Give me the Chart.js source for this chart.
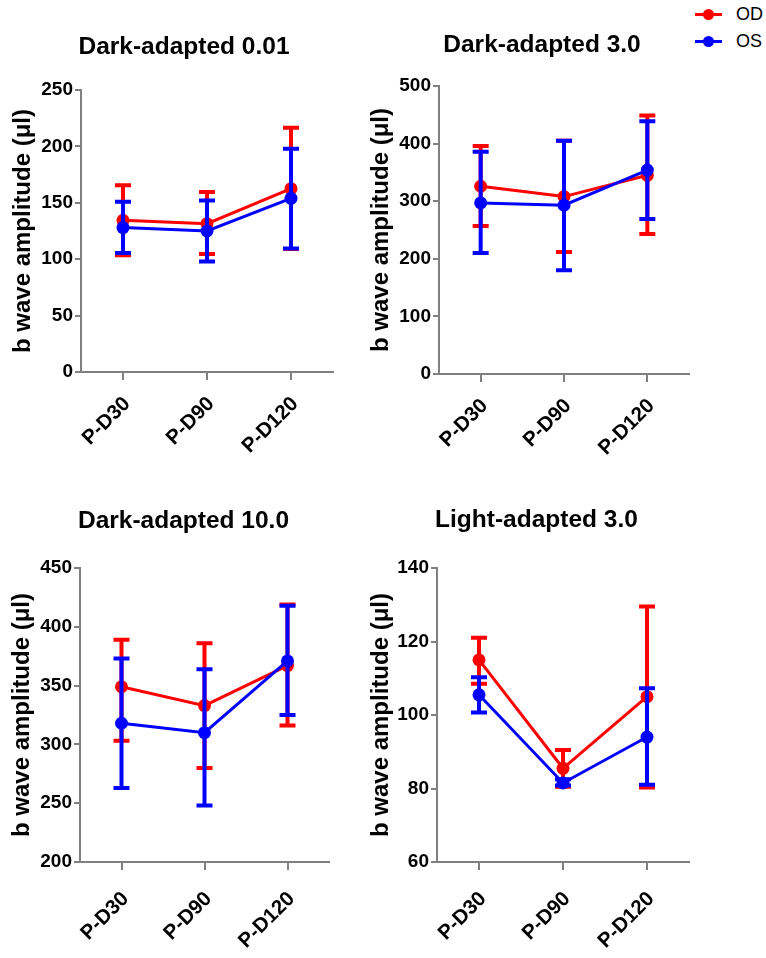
<!DOCTYPE html>
<html>
<head>
<meta charset="utf-8">
<title>b wave amplitude</title>
<script src="https://cdn.jsdelivr.net/npm/chart.js@4.4.1/dist/chart.umd.min.js"></script>
<style>
  html, body { margin: 0; padding: 0; background: #fff; }
  body { width: 766px; height: 958px; position: relative; overflow: hidden; font-family: 'Liberation Sans', Arial, sans-serif; }
  .panel { position: absolute; }
  #legend { position: absolute; left: 695px; top: 1px; font-size: 18px; color: #000; }
  #legend .item { display: flex; align-items: center; height: 27px; }
  #legend .mk { position: relative; width: 27px; height: 3px; margin-right: 14px; }
  #legend .mk::after { content: ''; position: absolute; left: 8px; top: -4px; width: 11px; height: 11px; border-radius: 50%; background: inherit; }
</style>
</head>
<body>
<div id="legend">
  <div class="item"><span class="mk" style="background:#ff0000"></span>OD</div>
  <div class="item"><span class="mk" style="background:#0000ff"></span>OS</div>
</div>
<div class="panel" style="left:0;top:25px;width:370px;height:465px"><canvas id="c1"></canvas></div>
<div class="panel" style="left:360px;top:25px;width:364px;height:465px"><canvas id="c2"></canvas></div>
<div class="panel" style="left:0;top:495px;width:366px;height:463px"><canvas id="c3"></canvas></div>
<div class="panel" style="left:360px;top:495px;width:354px;height:463px"><canvas id="c4"></canvas></div>
<script>
// Categories and series names
const categories = ['P-D30', 'P-D90', 'P-D120'];
const seriesNames = ['OD', 'OS'];
const panelTitles = ['Dark-adapted 0.01', 'Dark-adapted 3.0', 'Dark-adapted 10.0', 'Light-adapted 3.0'];
const yTitle = 'b wave amplitude (\u03bcl)';

// Y axis ranges: [min, max, step]
const yRange1 = [0, 250, 50];
const yRange2 = [0, 500, 100];
const yRange3 = [200, 450, 50];
const yRange4 = [60, 140, 20];

// Dark-adapted 0.01
const da001OD = [134.5, 131.5, 162.5];
const da001ODLow = [103.5, 104.5, 109];
const da001ODHigh = [165.5, 159.5, 216.5];
const da001OS = [128, 125, 154];
const da001OSLow = [105.5, 98, 109.5];
const da001OSHigh = [151, 152, 198];

// Dark-adapted 3.0
const da30OD = [326, 308, 345];
const da30ODLow = [257, 212, 243];
const da30ODHigh = [396, 405, 449];
const da30OS = [297, 293, 354];
const da30OSLow = [210, 180, 269];
const da30OSHigh = [386, 405, 439];

// Dark-adapted 10.0
const da100OD = [349, 333, 367];
const da100ODLow = [303, 280, 316];
const da100ODHigh = [389, 386, 419];
const da100OS = [318, 310, 371];
const da100OSLow = [263, 248, 325];
const da100OSHigh = [373, 364, 418];

// Light-adapted 3.0
const la30OD = [115, 85.5, 105];
const la30ODLow = [108.5, 80.5, 80.3];
const la30ODHigh = [121, 90.5, 129.5];
const la30OS = [105.5, 81.5, 94];
const la30OSLow = [100.7, 80.8, 81];
const la30OSHigh = [110.3, 82.5, 107.3];

const RED = '#ff0000';
const BLUE = '#0000ff';
const AXIS = '#808080';

Chart.defaults.font.family = "'Liberation Sans', Arial, sans-serif";
Chart.defaults.color = '#000';

// Draw error bars (whiskers with caps) just under each dataset's own line
const errorBarPlugin = {
  id: 'errorBars',
  beforeDatasetDraw(chart, args) {
    const ds = chart.data.datasets[args.index];
    if (!ds.errLow) return;
    const yScale = chart.scales.y;
    const ctx = chart.ctx;
    ctx.save();
    ctx.strokeStyle = ds.borderColor;
    ctx.lineWidth = 4;
    ctx.lineCap = 'butt';
    args.meta.data.forEach((pt, i) => {
      const x = pt.x;
      const yl = yScale.getPixelForValue(ds.errLow[i]);
      const yh = yScale.getPixelForValue(ds.errHigh[i]);
      ctx.beginPath();
      ctx.moveTo(x, yl);
      ctx.lineTo(x, yh);
      ctx.moveTo(x - 8, yl);
      ctx.lineTo(x + 8, yl);
      ctx.moveTo(x - 8, yh);
      ctx.lineTo(x + 8, yh);
      ctx.stroke();
    });
    ctx.restore();
  }
};

function makeDataset(label, values, low, high, color, order) {
  return {
    label: label,
    data: values,
    errLow: low,
    errHigh: high,
    borderColor: color,
    backgroundColor: color,
    borderWidth: 3,
    pointRadius: 6.5,
    pointHoverRadius: 6.5,
    pointBorderWidth: 0,
    tension: 0,
    order: order
  };
}

// Layout per panel (px). padLeft shifts the title centre; the y title is pulled back left.
const panelLayouts = [
  { padLeft: 35, yWidth: 46, xHeight: 118, padRight: 37, titleTop: 7.3, titleBottom: 28.3, yTitlePad: -26.4, xPad: 12 },
  { padLeft: 35, yWidth: 44, xHeight: 116, padRight: 35, titleTop: 5.3, titleBottom: 26.3, yTitlePad: -28.4, xPad: 12 },
  { padLeft: 38, yWidth: 42, xHeight: 96, padRight: 37, titleTop: 11.3, titleBottom: 32.3, yTitlePad: -29.9, xPad: 17 },
  { padLeft: 24, yWidth: 53, xHeight: 96, padRight: 25, titleTop: 10.3, titleBottom: 33.3, yTitlePad: -17.4, xPad: 17 }
];

function renderPanel(canvasId, title, range, od, odLow, odHigh, os, osLow, osHigh, lay) {
  const ctx = document.getElementById(canvasId);
  return new Chart(ctx, {
    type: 'line',
    data: {
      labels: categories,
      datasets: [
        makeDataset(seriesNames[0], od, odLow, odHigh, RED, 1),
        makeDataset(seriesNames[1], os, osLow, osHigh, BLUE, 0)
      ]
    },
    options: {
      responsive: true,
      maintainAspectRatio: false,
      animation: false,
      layout: { padding: { left: lay.padLeft, right: lay.padRight, top: 0, bottom: 0 } },
      plugins: {
        legend: { display: false },
        tooltip: { enabled: false },
        title: {
          display: true,
          text: title,
          color: '#000',
          font: { size: 24.5, weight: 'bold' },
          padding: { top: lay.titleTop, bottom: lay.titleBottom }
        }
      },
      scales: {
        x: {
          type: 'category',
          offset: true,
          border: { color: AXIS, width: 2 },
          grid: { display: true, drawOnChartArea: false, drawTicks: true, tickLength: 8, color: AXIS, lineWidth: 2, offset: false },
          ticks: { color: '#000', font: { size: 20.5, weight: 'bold' }, minRotation: 45, maxRotation: 45, padding: lay.xPad, labelOffset: 4, autoSkip: false },
          afterFit(scale) { scale.height = lay.xHeight; }
        },
        y: {
          min: range[0],
          max: range[1],
          border: { color: AXIS, width: 2 },
          grid: { display: true, drawOnChartArea: false, drawTicks: true, tickLength: 6, color: AXIS, lineWidth: 2 },
          ticks: { stepSize: range[2], color: '#000', font: { size: 19, weight: 'bold' }, padding: 2 },
          title: {
            display: true,
            text: yTitle,
            color: '#000',
            font: { size: 24, weight: 'bold' },
            padding: { top: lay.yTitlePad, bottom: 0 }
          },
          afterFit(scale) { scale.width = lay.yWidth; }
        }
      }
    },
    plugins: [errorBarPlugin]
  });
}

renderPanel('c1', panelTitles[0], yRange1, da001OD, da001ODLow, da001ODHigh, da001OS, da001OSLow, da001OSHigh, panelLayouts[0]);
renderPanel('c2', panelTitles[1], yRange2, da30OD, da30ODLow, da30ODHigh, da30OS, da30OSLow, da30OSHigh, panelLayouts[1]);
renderPanel('c3', panelTitles[2], yRange3, da100OD, da100ODLow, da100ODHigh, da100OS, da100OSLow, da100OSHigh, panelLayouts[2]);
renderPanel('c4', panelTitles[3], yRange4, la30OD, la30ODLow, la30ODHigh, la30OS, la30OSLow, la30OSHigh, panelLayouts[3]);
</script>
</body>
</html>
